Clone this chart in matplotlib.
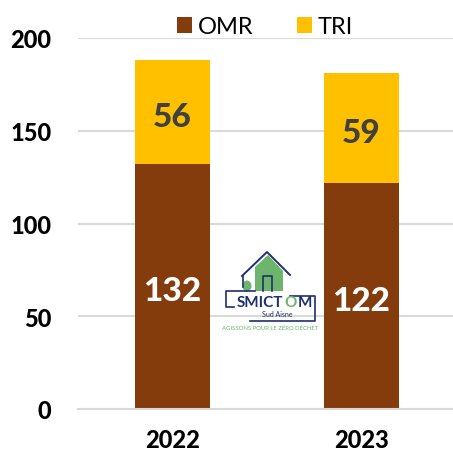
import matplotlib
matplotlib.use('Agg')
import matplotlib.pyplot as plt
import numpy as np
from matplotlib.patches import Polygon, Ellipse

plt.rcParams['font.family'] = ['Lato', 'DejaVu Sans']

years = ['2022', '2023']
omr = [132, 122]
tri = [56, 59]
yticks = [0, 50, 100, 150, 200]

W, H = 453, 452
fig = plt.figure(figsize=(W / 100, H / 100), dpi=100)
ax = fig.add_axes([78 / W, (H - 410) / H, (W - 78) / W, 371 / H])

x = np.arange(len(years))
ax.bar(x, omr, width=0.4, color='#843C0C', label='OMR', zorder=2)
ax.bar(x, tri, width=0.4, bottom=omr, color='#FFC000', label='TRI', zorder=2)

# value labels
for i in range(len(years)):
    ax.annotate(str(omr[i]), (x[i], omr[i] / 2), xytext=(0, -3), textcoords='offset points',
                color='white', fontsize=24, fontweight='black', ha='center', va='center', zorder=5)
    ax.annotate(str(tri[i]), (x[i], omr[i] + tri[i] / 2), xytext=(0, -3), textcoords='offset points',
                color='#404040', fontsize=24, fontweight='black', ha='center', va='center', zorder=5)

ax.set_xlim(-0.5, 1.485)
ax.set_ylim(0, 200)
ax.set_yticks(yticks)
ax.set_xticks(x, years)
ax.grid(axis='y', color='#D9D9D9', linewidth=1.5, zorder=0)
ax.set_axisbelow(True)
ax.tick_params(length=0)
ax.tick_params(axis='y', labelsize=17, pad=19)
ax.tick_params(axis='x', labelsize=17, pad=13.5)
for lab in ax.get_xticklabels() + ax.get_yticklabels():
    lab.set_fontweight('black')
    lab.set_color('black')
for s in ax.spines.values():
    s.set_visible(False)
ax.spines['bottom'].set_visible(True)
ax.spines['bottom'].set_color('#D9D9D9')
ax.spines['bottom'].set_linewidth(1.5)

fig.legend(loc='center', bbox_to_anchor=(265 / W, 1 - 28 / H), ncol=2, frameon=False,
           fontsize=17, handlelength=0.63, handleheight=0.63, handletextpad=0.25,
           columnspacing=1.85, labelspacing=0)

# logo, drawn in pixel coordinates
lg = fig.add_axes([0, 0, 1, 1], facecolor='none')
lg.set_xlim(0, W)
lg.set_ylim(H, 0)
lg.axis('off')
navy = '#1F2F6E'
green = '#6DB56D'
lg.add_patch(Polygon([(255, 292), (255, 268), (268, 256), (283, 272), (283, 292)], color=green, lw=0))
lg.add_patch(Ellipse((247, 287), 9, 11, color=green, lw=0))
lg.plot([242, 267, 290], [277, 253, 276], color=navy, lw=1.4)
lg.plot([243, 243], [277, 288], color=navy, lw=1.2)
lg.plot([263, 263, 272, 272], [292, 277, 277, 292], color=navy, lw=1.2)
lg.plot([255, 226, 226, 234], [292, 292, 308, 308], color=navy, lw=1.2)
lg.plot([290, 315, 315, 250], [297, 297, 322, 322], color=navy, lw=1.2)
lg.text(283, 303, 'SMICT', color=navy, fontsize=11, ha='right', va='center', fontweight='bold')
lg.text(291, 303, 'O', color=green, fontsize=11, ha='center', va='center', fontweight='bold')
lg.text(305, 303, 'M', color=navy, fontsize=11, ha='center', va='center', fontweight='bold')
lg.text(277, 315, 'Sud Aisne', color=navy, fontsize=5, ha='center', va='center')
lg.text(270, 328, 'AGISSONS POUR LE ZÉRO DÉCHET', color=green, fontsize=4.3, ha='center', va='center')

fig.savefig('out.png', dpi=100)
